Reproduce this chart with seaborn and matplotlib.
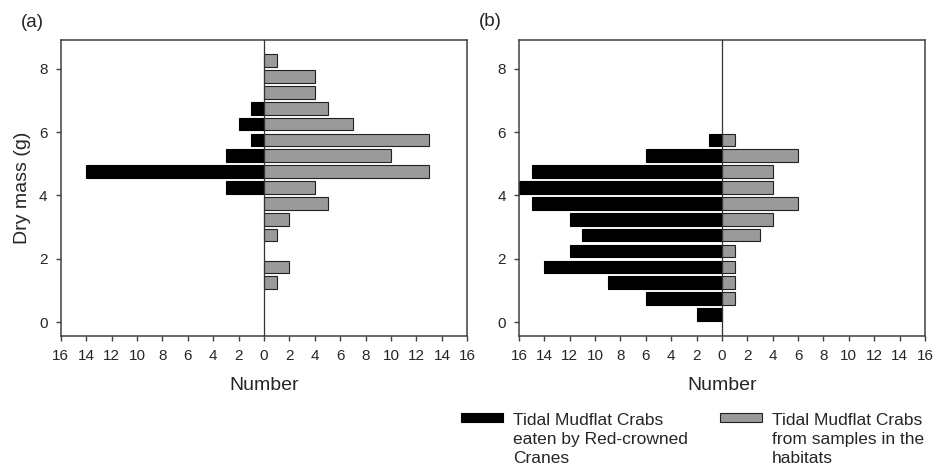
import matplotlib
matplotlib.use("Agg")
import matplotlib.pyplot as plt
import seaborn as sns
import numpy as np
import pandas as pd
from matplotlib.patches import Patch

# Bin centres (dry mass, g)
a_gray_mass = [8.25, 7.75, 7.25, 6.75, 6.25, 5.75, 5.25, 4.75, 4.25, 3.75, 3.25, 2.75, 1.75, 1.25]
a_gray_num = [1, 4, 4, 5, 7, 13, 10, 13, 4, 5, 2, 1, 2, 1]
a_black_mass = [6.75, 6.25, 5.75, 5.25, 4.75, 4.25]
a_black_num = [1, 2, 1, 3, 14, 3]

b_gray_mass = [5.75, 5.25, 4.75, 4.25, 3.75, 3.25, 2.75, 2.25, 1.75, 1.25, 0.75]
b_gray_num = [1, 6, 4, 4, 6, 4, 3, 1, 1, 1, 1]
b_black_mass = [5.75, 5.25, 4.75, 4.25, 3.75, 3.25, 2.75, 2.25, 1.75, 1.25, 0.75, 0.25]
b_black_num = [1, 6, 15, 16, 15, 12, 11, 12, 14, 9, 6, 2]

x_ticks = list(range(-16, 17, 2))
y_ticks = [0, 2, 4, 6, 8]
panel_labels = ["(a)", "(b)"]
legend_labels = ["Tidal Mudflat Crabs\neaten by Red-crowned\nCranes",
                 "Tidal Mudflat Crabs\nfrom samples in the\nhabitats"]

sns.set_style("ticks")
plt.rcParams["font.family"] = ["Liberation Sans", "DejaVu Sans"]
GRAY = "#9a9a9a"
SPINE = "#404040"

fig = plt.figure(figsize=(9.37, 4.69), dpi=100)
ax_a = fig.add_axes([60.7 / 937, 1 - 335.7 / 469, 406.6 / 937, 295.7 / 469])
ax_b = fig.add_axes([519 / 937, 1 - 335.7 / 469, 406 / 937, 295.7 / 469])

panels = [
    (ax_a, a_black_mass, a_black_num, a_gray_mass, a_gray_num),
    (ax_b, b_black_mass, b_black_num, b_gray_mass, b_gray_num),
]

for i, (ax, bm, bn, gm, gn) in enumerate(panels):
    dfb = pd.DataFrame({"mass": bm, "num": [-v for v in bn]})
    dfg = pd.DataFrame({"mass": gm, "num": gn})
    sns.barplot(data=dfb, x="num", y="mass", orient="y", native_scale=True,
                width=0.8, color="black", edgecolor="black", linewidth=0.8,
                saturation=1, errorbar=None, ax=ax)
    sns.barplot(data=dfg, x="num", y="mass", orient="y", native_scale=True,
                width=0.8, color=GRAY, edgecolor="#222222", linewidth=0.8,
                saturation=1, errorbar=None, ax=ax)
    ax.axvline(0, color="#333333", lw=0.9, zorder=3)
    ax.set_xlim(-16, 16)
    ax.set_ylim(-0.42, 8.9)
    ax.set_xticks(x_ticks)
    ax.set_xticklabels([str(abs(v)) for v in x_ticks])
    ax.set_yticks(y_ticks)
    ax.set_yticklabels([str(v) for v in y_ticks])
    ax.tick_params(axis="both", labelsize=11, length=3.5, width=1.0,
                   color=SPINE, pad=6, direction="out")
    for s in ax.spines.values():
        s.set_visible(True)
        s.set_color(SPINE)
        s.set_linewidth(1.1)
    ax.set_xlabel("Number", fontsize=14, labelpad=10)
    ax.set_ylabel("Dry mass (g)" if i == 0 else "", fontsize=14, labelpad=6)
    ax.grid(False)

fig.text(21 / 937, 1 - 22.5 / 469, panel_labels[0], fontsize=13.5, va="center", ha="left")
fig.text(479 / 937, 1 - 22 / 469, panel_labels[1], fontsize=13.5, va="center", ha="left")

handles = [Patch(facecolor="black", edgecolor="black", lw=0.8),
           Patch(facecolor=GRAY, edgecolor="#222222", lw=0.8)]
leg = fig.legend(handles, legend_labels, loc="upper left",
                 bbox_to_anchor=(460.7 / 937, 1 - 413 / 469), ncol=2, frameon=False,
                 fontsize=12.5, handlelength=2.45, handleheight=0.46, handletextpad=0.55,
                 columnspacing=1.85, borderaxespad=0, borderpad=0, labelspacing=0.2,
                 alignment="left")
for t in leg.get_texts():
    t.set_linespacing(1.35)
# align each key with the first line of its label
for col in leg._legend_handle_box.get_children():
    for item in col.get_children():
        item.align = "top"

fig.savefig("out.png", dpi=100)
